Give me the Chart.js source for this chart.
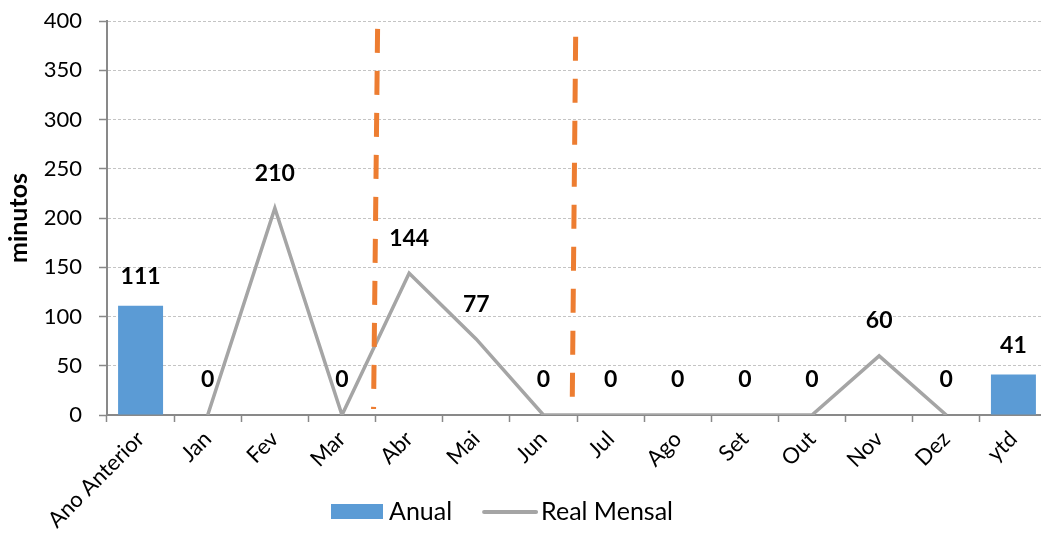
<!DOCTYPE html>
<html>
<head>
<meta charset="utf-8">
<script src="https://cdn.jsdelivr.net/npm/chart.js@4.4.1/dist/chart.umd.min.js"></script>
<style>
  html, body { margin: 0; padding: 0; background: #fff; overflow: hidden; }
  #wrap { position: relative; width: 1041px; height: 533px; overflow: hidden; }
  canvas { display: block; }
</style>
</head>
<body>
<div id="wrap"><canvas id="chart" width="1047" height="533"></canvas></div>
<script>
// Categories along the x axis
const categories = ['Ano Anterior', 'Jan', 'Fev', 'Mar', 'Abr', 'Mai', 'Jun', 'Jul', 'Ago', 'Set', 'Out', 'Nov', 'Dez', 'ytd'];

// Yearly totals (bars): previous year and year to date
const anual = [111, null, null, null, null, null, null, null, null, null, null, null, null, 41];

// Monthly actuals (line)
const realMensal = [null, 0, 210, 0, 144, 77, 0, 0, 0, 0, 0, 60, 0, null];

// Value axis
const yMin = 0;
const yMax = 400;
const yStep = 50;

// Orange period markers, in category/value units (top and bottom end of each dashed line)
const markerTopX = [3.53, 6.48];
const markerBottomX = [3.47, 6.43];
const markerTopY = [392, 384];
const markerBottomY = [6, 18];

const FONT = 'Lato, "Noto Sans", sans-serif';
const BLUE = '#5B9BD5';
const GREY = '#A5A5A5';
const ORANGE = '#ED7D31';
const AXIS = '#898989';

Chart.defaults.font.family = FONT;
Chart.defaults.color = '#000';

// Value labels above bars and line points
const valueLabels = {
  id: 'valueLabels',
  afterDatasetsDraw(chart) {
    const ctx = chart.ctx;
    ctx.save();
    ctx.font = 'bold 23px ' + FONT;
    ctx.fillStyle = '#000';
    ctx.textAlign = 'center';
    ctx.textBaseline = 'middle';
    chart.data.datasets.forEach((ds, di) => {
      const meta = chart.getDatasetMeta(di);
      const lift = ds.type === 'line' ? 35 : 29;
      meta.data.forEach((el, i) => {
        const v = ds.data[i];
        if (v === null || v === undefined) return;
        ctx.fillText(String(v), el.x, el.y - lift);
      });
    });
    ctx.restore();
  }
};

// Dashed orange period separators
const periodMarkers = {
  id: 'periodMarkers',
  afterDatasetsDraw(chart) {
    const x = chart.scales.x, y = chart.scales.y;
    const ctx = chart.ctx;
    ctx.save();
    ctx.strokeStyle = ORANGE;
    ctx.lineWidth = 5;
    ctx.setLineDash([24, 18]);
    for (let i = 0; i < markerTopX.length; i++) {
      ctx.beginPath();
      ctx.moveTo(x.getPixelForValue(markerTopX[i]), y.getPixelForValue(markerTopY[i]));
      ctx.lineTo(x.getPixelForValue(markerBottomX[i]), y.getPixelForValue(markerBottomY[i]));
      ctx.stroke();
    }
    ctx.restore();
  }
};

// Legend row under the axis labels: swatch + dataset label for each series
const bottomLegend = {
  id: 'bottomLegend',
  afterDraw(chart) {
    const ctx = chart.ctx;
    const cy = 512;
    let x = 331;
    ctx.save();
    ctx.font = '25px ' + FONT;
    ctx.fillStyle = '#000';
    ctx.textAlign = 'left';
    ctx.textBaseline = 'middle';
    chart.data.datasets.forEach((ds) => {
      if (ds.type === 'bar') {
        ctx.fillStyle = ds.backgroundColor;
        ctx.fillRect(x, cy - 8, 52, 15);
        x += 52 + 6;
      } else {
        ctx.strokeStyle = ds.borderColor;
        ctx.lineWidth = 4;
        ctx.lineCap = 'round';
        ctx.beginPath();
        ctx.moveTo(x + 2, cy);
        ctx.lineTo(x + 54, cy);
        ctx.stroke();
        x += 55 + 4;
      }
      ctx.fillStyle = '#000';
      ctx.fillText(ds.label, x, cy);
      x += ctx.measureText(ds.label).width + 30;
    });
    ctx.restore();
  }
};

new Chart(document.getElementById('chart'), {
  data: {
    labels: categories,
    datasets: [
      {
        type: 'bar',
        label: 'Anual',
        data: anual,
        backgroundColor: BLUE,
        borderWidth: 0,
        barPercentage: 0.67,
        categoryPercentage: 1.0,
        order: 2
      },
      {
        type: 'line',
        label: 'Real Mensal',
        data: realMensal,
        borderColor: GREY,
        backgroundColor: GREY,
        borderWidth: 3.5,
        pointRadius: 0,
        pointHoverRadius: 0,
        tension: 0,
        spanGaps: false,
        order: 1
      }
    ]
  },
  options: {
    responsive: false,
    animation: false,
    events: [],
    layout: { autoPadding: false, padding: { top: 21, left: 0, right: 0, bottom: 0 } },
    plugins: {
      tooltip: { enabled: false },
      legend: { display: false }
    },
    scales: {
      x: {
        type: 'category',
        offset: true,
        grid: {
          display: true,
          offset: true,
          drawOnChartArea: false,
          drawTicks: true,
          tickLength: 7,
          tickColor: AXIS,
          tickWidth: 1.5
        },
        border: { display: true, color: AXIS, width: 2 },
        ticks: {
          autoSkip: false,
          minRotation: 45,
          maxRotation: 45,
          padding: 4,
          font: { size: 22 },
          color: '#000'
        },
        afterFit(scale) {
          scale.height = 533 - 415;
          scale.paddingTop = 0;
          scale.paddingBottom = 0;
        }
      },
      y: {
        type: 'linear',
        min: yMin,
        max: yMax,
        ticks: { stepSize: yStep, padding: 17, font: { size: 22 }, color: '#000' },
        grid: {
          color: '#C4C4C4',
          lineWidth: 1,
          tickLength: 8,
          tickColor: AXIS,
          tickWidth: 1.5,
          tickBorderDash: []
        },
        border: { display: true, color: AXIS, width: 2, dash: [3, 2] },
        title: {
          display: true,
          text: 'minutos',
          font: { size: 25, weight: 'bold' },
          color: '#000',
          padding: { top: 4, bottom: 0 }
        },
        afterFit(scale) {
          scale.width = 107;
          scale.paddingTop = 0;
          scale.paddingBottom = 0;
        }
      }
    }
  },
  plugins: [valueLabels, periodMarkers, bottomLegend]
});
</script>
</body>
</html>
